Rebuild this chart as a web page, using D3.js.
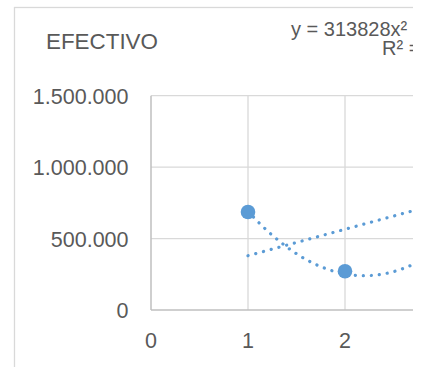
<!DOCTYPE html>
<html><head><meta charset="utf-8">
<script src="https://cdnjs.cloudflare.com/ajax/libs/d3/7.8.5/d3.min.js"></script>
<style>html,body{margin:0;padding:0;background:#fff;overflow:hidden}</style>
</head><body><div id="chart"></div>
<script>
const title = "EFECTIVO";
const xValues = [1, 2];
const yValues = [686000, 271000];
const xTicks = [0, 1, 2];
const yTicks = [0, 500000, 1000000, 1500000];
const polyCoef = [313828, -1380843, 1758928]; // a, b, c of polynomial trendline
const linCoef = [185000, 195000];            // slope, intercept of linear trendline
const eqLine1 = "y = 313828x² - 1E+06x + 2E+06";
const eqLine2 = "R² = 1";

const W = 425, H = 367, clipW = 413;
const svg = d3.select("#chart").append("svg").attr("width", W).attr("height", H);
svg.append("clipPath").attr("id", "clip").append("rect").attr("x", 0).attr("y", 0).attr("width", clipW).attr("height", H);
const g = svg.append("g").attr("clip-path", "url(#clip)");

const x = d3.scaleLinear().domain([0, 1]).range([151, 248]);
const y = d3.scaleLinear().domain([0, 1500000]).range([310, 95.7]);
const font = "'Liberation Sans', Arial, sans-serif";
const txt = "#595959";

// chart border
g.append("rect").attr("x", 14.5).attr("y", 7.5).attr("width", 500).attr("height", 500)
  .attr("fill", "none").attr("stroke", "#D9D9D9").attr("stroke-width", 1.3);

// gridlines
const xMax = 3;
g.selectAll(".hg").data(yTicks.filter(d => d > 0)).join("line")
  .attr("x1", x(0)).attr("x2", x(xMax)).attr("y1", d => y(d)).attr("y2", d => y(d))
  .attr("stroke", "#D9D9D9").attr("stroke-width", 1.3);
g.selectAll(".vg").data([1, 2, 3]).join("line")
  .attr("x1", d => x(d)).attr("x2", d => x(d)).attr("y1", y(0)).attr("y2", y(1500000))
  .attr("stroke", "#D9D9D9").attr("stroke-width", 1.3);
// axis lines
g.append("line").attr("x1", x(0)).attr("x2", x(xMax)).attr("y1", y(0)).attr("y2", y(0))
  .attr("stroke", "#BFBFBF").attr("stroke-width", 1.5);
g.append("line").attr("x1", x(0)).attr("x2", x(0)).attr("y1", y(0)).attr("y2", y(1500000))
  .attr("stroke", "#BFBFBF").attr("stroke-width", 1.5);

// tick labels
const fmt = d => d3.format(",")(d).replace(/,/g, ".");
g.selectAll(".yt").data(yTicks).join("text")
  .attr("x", 128.5).attr("y", d => y(d) + 8.3).attr("text-anchor", "end")
  .attr("font-family", font).attr("font-size", 21.5).attr("fill", txt).text(fmt);
g.selectAll(".xt").data(xTicks).join("text")
  .attr("x", d => x(d)).attr("y", 348).attr("text-anchor", "middle")
  .attr("font-family", font).attr("font-size", 21.5).attr("fill", txt).text(d => d);

// trendlines
const color = "#5B9BD5";
const xsPoly = d3.range(1, 3.001, 0.02);
const poly = d3.line().x(d => x(d)).y(d => y(polyCoef[0] * d * d + polyCoef[1] * d + polyCoef[2]));
const lin = d3.line().x(d => x(d)).y(d => y(linCoef[0] * d + linCoef[1]));
[[poly, xsPoly], [lin, [1, 3]]].forEach(([gen, xs]) => {
  g.append("path").attr("d", gen(xs)).attr("fill", "none").attr("stroke", color)
    .attr("stroke-width", 3.2).attr("stroke-linecap", "round").attr("stroke-dasharray", "0.1 7.9");
});

// points
g.selectAll(".pt").data(xValues.map((d, i) => [d, yValues[i]])).join("circle")
  .attr("cx", d => x(d[0])).attr("cy", d => y(d[1])).attr("r", 7.3).attr("fill", color);

// title
g.append("text").attr("x", 46).attr("y", 48.5).attr("font-family", font).attr("font-size", 22.4)
  .attr("fill", txt).text(title);
// equation
g.append("text").attr("x", 291).attr("y", 36).attr("font-family", font).attr("font-size", 20)
  .attr("fill", txt).text(eqLine1);
g.append("text").attr("x", 382).attr("y", 55).attr("font-family", font).attr("font-size", 20)
  .attr("fill", txt).text(eqLine2);
</script></body></html>
